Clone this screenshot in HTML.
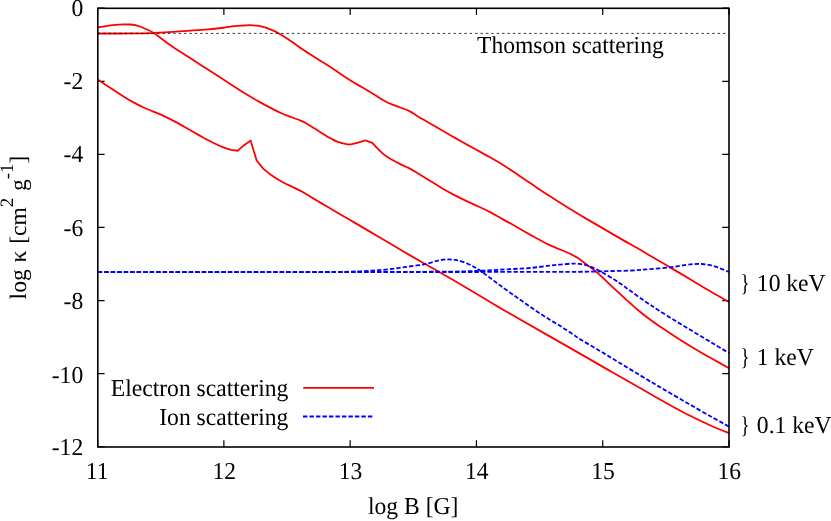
<!DOCTYPE html>
<html><head><meta charset="utf-8"><title>Opacity</title>
<style>html,body{margin:0;padding:0;background:#fff;overflow:hidden}svg{display:block;will-change:transform}text{text-rendering:geometricPrecision;font-family:"Liberation Serif",serif;fill:#000}</style>
</head><body>
<svg width="831" height="521" viewBox="0 0 831 521">
<rect x="0" y="0" width="831" height="521" fill="#ffffff"/>
<path d="M97.60,447.00 v-6.80 M97.60,8.30 v6.80 M223.88,447.00 v-6.80 M223.88,8.30 v6.80 M350.16,447.00 v-6.80 M350.16,8.30 v6.80 M476.44,447.00 v-6.80 M476.44,8.30 v6.80 M602.72,447.00 v-6.80 M602.72,8.30 v6.80 M729.00,447.00 v-6.80 M729.00,8.30 v6.80 M97.80,8.20 h6.80 M729.00,8.20 h-6.80 M97.80,81.29 h6.80 M729.00,81.29 h-6.80 M97.80,154.38 h6.80 M729.00,154.38 h-6.80 M97.80,227.47 h6.80 M729.00,227.47 h-6.80 M97.80,300.56 h6.80 M729.00,300.56 h-6.80 M97.80,373.65 h6.80 M729.00,373.65 h-6.80 M97.80,446.74 h6.80 M729.00,446.74 h-6.80" stroke="#000" stroke-width="1.2" fill="none"/>
<g fill="none" stroke-linejoin="miter" stroke-linecap="butt">
<g stroke="#ff0000" stroke-width="1.8">
<path d="M97.90,33.50 C104.62,33.48 128.82,33.50 138.20,33.40 C147.58,33.30 149.17,33.12 154.20,32.90 C159.23,32.68 163.67,32.38 168.40,32.10 C173.13,31.82 177.68,31.52 182.60,31.20 C187.52,30.88 192.50,30.61 197.90,30.20 C203.30,29.79 210.55,29.18 215.00,28.75 C219.45,28.32 221.40,28.03 224.60,27.60 C227.80,27.18 230.98,26.55 234.20,26.20 C237.42,25.85 241.25,25.67 243.90,25.50 C246.55,25.33 247.87,25.17 250.10,25.20 C252.33,25.23 254.82,25.33 257.30,25.70 C259.78,26.07 262.43,26.63 265.00,27.40 C267.57,28.17 270.45,29.33 272.70,30.30 C274.95,31.27 276.25,31.92 278.50,33.20 C280.75,34.48 283.45,36.20 286.20,38.00 C288.95,39.80 292.37,42.17 295.00,44.00 C297.63,45.83 298.82,46.87 302.00,49.00 C305.18,51.13 310.08,54.25 314.10,56.80 C318.12,59.35 322.10,61.73 326.10,64.30 C330.10,66.87 334.08,69.53 338.10,72.20 C342.12,74.87 346.18,77.78 350.20,80.30 C354.22,82.82 358.07,84.83 362.20,87.30 C366.33,89.77 371.27,92.82 375.00,95.10 C378.73,97.38 381.58,99.37 384.60,101.00 C387.62,102.63 390.08,103.68 393.10,104.90 C396.12,106.12 399.90,107.22 402.70,108.30 C405.50,109.38 407.50,110.13 409.90,111.40 C412.30,112.67 414.30,114.22 417.10,115.90 C419.90,117.58 423.08,119.40 426.70,121.50 C430.32,123.60 434.78,126.17 438.80,128.50 C442.82,130.83 446.80,133.20 450.80,135.50 C454.80,137.80 458.77,140.05 462.80,142.30 C466.83,144.55 470.62,146.58 475.00,149.00 C479.38,151.42 484.75,154.33 489.10,156.80 C493.45,159.27 497.10,161.35 501.10,163.80 C505.10,166.25 509.08,168.85 513.10,171.50 C517.12,174.15 521.18,176.97 525.20,179.70 C529.22,182.43 533.13,185.17 537.20,187.90 C541.27,190.63 544.45,192.78 549.60,196.10 C554.75,199.42 562.02,204.05 568.10,207.80 C574.18,211.55 580.08,215.05 586.10,218.60 C592.12,222.15 598.18,225.60 604.20,229.10 C610.22,232.60 616.18,236.15 622.20,239.60 C628.22,243.05 635.65,247.10 640.30,249.80 C644.95,252.50 645.07,252.83 650.10,255.80 C655.13,258.77 663.48,263.48 670.50,267.60 C677.52,271.72 685.58,276.55 692.20,280.50 C698.82,284.45 704.05,287.70 710.20,291.30 C716.35,294.90 725.95,300.30 729.10,302.10"/>
<path d="M97.90,27.50 C99.22,27.27 102.92,26.53 105.80,26.10 C108.68,25.67 112.30,25.20 115.20,24.90 C118.10,24.60 120.78,24.37 123.20,24.30 C125.62,24.23 127.67,24.35 129.70,24.50 C131.73,24.65 133.48,24.78 135.40,25.20 C137.32,25.62 139.25,26.28 141.20,27.00 C143.15,27.72 144.93,28.47 147.10,29.50 C149.27,30.53 151.83,31.70 154.20,33.20 C156.57,34.70 158.93,36.73 161.30,38.50 C163.67,40.27 166.03,42.08 168.40,43.80 C170.77,45.52 173.13,47.23 175.50,48.80 C177.87,50.37 180.47,51.87 182.60,53.20 C184.73,54.53 185.40,54.93 188.30,56.80 C191.20,58.67 194.72,60.98 200.00,64.40 C205.28,67.82 213.55,73.12 220.00,77.30 C226.45,81.48 232.22,85.45 238.70,89.50 C245.18,93.55 251.68,97.60 258.90,101.60 C266.12,105.60 274.93,110.30 282.00,113.50 C289.07,116.70 296.80,118.87 301.30,120.80 C305.80,122.73 304.83,122.58 309.00,125.10 C313.17,127.62 322.80,133.75 326.30,135.90 C329.80,138.05 328.10,137.00 330.00,138.00 C331.90,139.00 334.97,140.88 337.70,141.90 C340.43,142.92 344.00,143.73 346.40,144.10 C348.80,144.47 350.02,144.40 352.10,144.10 C354.18,143.80 356.68,142.90 358.90,142.30 C361.12,141.70 364.32,140.80 365.40,140.50 L372.30,142.90 C373.20,143.87 375.68,146.70 377.70,148.70 C379.72,150.70 382.15,153.15 384.40,154.90 C386.65,156.65 388.78,157.78 391.20,159.20 C393.62,160.62 396.02,161.95 398.90,163.40 C401.78,164.85 405.62,166.43 408.50,167.90 C411.38,169.37 413.63,170.67 416.20,172.20 C418.77,173.73 421.33,175.50 423.90,177.10 C426.47,178.70 428.58,179.95 431.60,181.80 C434.62,183.65 438.25,186.02 442.00,188.20 C445.75,190.38 450.08,192.78 454.10,194.90 C458.12,197.02 462.10,199.00 466.10,200.90 C470.10,202.80 474.08,204.43 478.10,206.30 C482.12,208.17 486.18,210.00 490.20,212.10 C494.22,214.20 498.20,216.67 502.20,218.90 C506.20,221.13 509.57,222.88 514.20,225.50 C518.83,228.12 524.15,231.37 530.00,234.60 C535.85,237.83 542.88,241.83 549.30,244.90 C555.72,247.97 563.68,250.77 568.50,253.00 C573.32,255.23 574.98,256.23 578.20,258.30 C581.42,260.37 584.62,263.02 587.80,265.40 C590.98,267.78 593.78,269.57 597.30,272.60 C600.82,275.63 604.40,279.40 608.90,283.60 C613.40,287.80 619.12,293.10 624.30,297.80 C629.48,302.50 635.38,307.93 640.00,311.80 C644.62,315.67 647.98,318.08 652.00,321.00 C656.02,323.92 660.08,326.60 664.10,329.30 C668.12,332.00 672.10,334.62 676.10,337.20 C680.10,339.78 684.08,342.33 688.10,344.80 C692.12,347.27 696.18,349.68 700.20,352.00 C704.22,354.32 707.38,356.00 712.20,358.70 C717.02,361.40 726.28,366.62 729.10,368.20"/>
<path d="M97.90,79.60 C99.82,80.88 105.07,84.45 109.40,87.30 C113.73,90.15 119.88,94.18 123.90,96.70 C127.92,99.22 130.30,100.65 133.50,102.40 C136.70,104.15 139.90,105.72 143.10,107.20 C146.30,108.68 149.48,109.93 152.70,111.30 C155.92,112.67 158.75,113.72 162.40,115.40 C166.05,117.08 170.97,119.50 174.60,121.40 C178.23,123.30 180.98,124.98 184.20,126.80 C187.42,128.62 190.68,130.48 193.90,132.30 C197.12,134.12 200.30,135.97 203.50,137.70 C206.70,139.43 209.90,141.13 213.10,142.70 C216.30,144.27 219.73,145.90 222.70,147.10 C225.67,148.30 229.53,149.43 230.90,149.90 L237.70,150.70 L243.70,145.40 L250.60,140.60 L256.70,160.50 L263.10,168.60 C264.32,169.57 267.27,172.22 270.40,174.40 C273.53,176.58 278.05,179.53 281.90,181.70 C285.75,183.87 289.97,185.65 293.50,187.40 C297.03,189.15 300.53,190.80 303.10,192.20 C305.67,193.60 306.48,194.33 308.90,195.80 C311.32,197.27 314.72,199.28 317.60,201.00 C320.48,202.72 322.47,203.88 326.20,206.10 C329.93,208.32 335.35,211.58 340.00,214.30 C344.65,217.02 347.75,218.70 354.10,222.40 C360.45,226.10 370.08,231.78 378.10,236.50 C386.12,241.22 394.37,246.12 402.20,250.70 C410.03,255.28 418.93,260.45 425.10,264.00 C431.27,267.55 434.52,269.33 439.20,272.00 C443.88,274.67 445.25,275.33 453.20,280.00 C461.15,284.67 477.92,294.67 486.90,300.00 C495.88,305.33 491.58,303.07 507.10,312.00 C522.62,320.93 562.67,343.67 580.00,353.60 C597.33,363.53 601.10,365.87 611.10,371.60 C621.10,377.33 631.17,382.97 640.00,388.00 C648.83,393.03 656.08,397.33 664.10,401.80 C672.12,406.27 680.08,410.72 688.10,414.80 C696.12,418.88 705.37,423.27 712.20,426.30 C719.03,429.33 726.28,431.88 729.10,433.00"/>
<path d="M303.2,387.9 H373.9"/>
</g>
<g stroke="#0000ff" stroke-width="1.8" stroke-dasharray="4.4 2.09">
<path d="M97.90,272.20 C131.58,272.18 241.32,272.13 300.00,272.10 C358.68,272.07 410.00,272.03 450.00,272.00 C490.00,271.97 517.03,271.95 540.00,271.90 C562.97,271.85 576.62,271.82 587.80,271.70 C598.98,271.58 599.73,271.40 607.10,271.20 C614.47,271.00 624.83,270.85 632.00,270.50 C639.17,270.15 643.68,269.63 650.10,269.10 C656.52,268.57 664.48,268.00 670.50,267.30 C676.52,266.60 681.98,265.45 686.20,264.90 C690.42,264.35 693.20,264.15 695.80,264.00 C698.40,263.85 699.60,263.85 701.80,264.00 C704.00,264.15 706.60,264.42 709.00,264.90 C711.40,265.38 713.78,266.10 716.20,266.90 C718.62,267.70 721.35,268.85 723.50,269.70 C725.65,270.55 728.17,271.62 729.10,272.00"/>
<path d="M97.90,272.20 C131.58,272.18 242.98,272.18 300.00,272.10 C357.02,272.02 409.67,271.93 440.00,271.70 C470.33,271.47 470.82,271.10 482.00,270.70 C493.18,270.30 499.10,269.75 507.10,269.30 C515.10,268.85 522.97,268.60 530.00,268.00 C537.03,267.40 544.30,266.27 549.30,265.70 C554.30,265.13 556.22,264.95 560.00,264.60 C563.78,264.25 569.00,263.73 572.00,263.60 C575.00,263.47 575.38,263.47 578.00,263.80 C580.62,264.13 584.08,264.38 587.70,265.60 C591.32,266.82 595.28,268.78 599.70,271.10 C604.12,273.42 610.38,277.15 614.20,279.50 C618.02,281.85 619.97,283.35 622.60,285.20 C625.23,287.05 626.22,287.88 630.00,290.60 C633.78,293.32 640.62,298.27 645.30,301.50 C649.98,304.73 652.97,306.70 658.10,310.00 C663.23,313.30 670.08,317.60 676.10,321.30 C682.12,325.00 688.18,328.58 694.20,332.20 C700.22,335.82 706.38,339.52 712.20,343.00 C718.02,346.48 726.28,351.42 729.10,353.10"/>
<path d="M97.90,272.20 C123.25,272.18 211.32,272.13 250.00,272.10 C288.68,272.07 313.67,272.07 330.00,272.00 C346.33,271.93 343.00,271.82 348.00,271.70 C353.00,271.58 356.00,271.48 360.00,271.30 C364.00,271.12 368.33,270.83 372.00,270.60 C375.67,270.37 378.67,270.18 382.00,269.90 C385.33,269.62 388.72,269.30 392.00,268.90 C395.28,268.50 398.37,267.97 401.70,267.50 C405.03,267.03 408.40,266.60 412.00,266.10 C415.60,265.60 420.12,265.08 423.30,264.50 C426.48,263.92 428.80,263.22 431.10,262.60 C433.40,261.98 435.12,261.28 437.10,260.80 C439.08,260.32 441.10,259.93 443.00,259.70 C444.90,259.47 446.67,259.38 448.50,259.40 C450.33,259.42 452.28,259.60 454.00,259.80 C455.72,260.00 456.60,259.98 458.80,260.60 C461.00,261.22 464.60,262.42 467.20,263.50 C469.80,264.58 472.40,266.03 474.40,267.10 C476.40,268.17 477.10,268.48 479.20,269.90 C481.30,271.32 484.37,273.65 487.00,275.60 C489.63,277.55 492.50,279.73 495.00,281.60 C497.50,283.47 498.82,284.48 502.00,286.80 C505.18,289.12 510.08,292.65 514.10,295.50 C518.12,298.35 522.10,301.12 526.10,303.90 C530.10,306.68 534.08,309.53 538.10,312.20 C542.12,314.87 546.18,317.40 550.20,319.90 C554.22,322.40 558.40,324.78 562.20,327.20 C566.00,329.62 570.03,332.40 573.00,334.40 C575.97,336.40 575.65,336.53 580.00,339.20 C584.35,341.87 592.68,346.57 599.10,350.40 C605.52,354.23 610.48,357.33 618.50,362.20 C626.52,367.07 639.60,375.03 647.20,379.60 C654.80,384.17 657.28,385.62 664.10,389.60 C670.92,393.58 680.08,398.88 688.10,403.50 C696.12,408.12 705.37,413.45 712.20,417.30 C719.03,421.15 726.28,425.05 729.10,426.60"/>
<path d="M303.0,416.5 H372.6"/>
</g>
</g>
<path d="M97.80,33.4 H729.00" stroke="#000" stroke-width="0.8" stroke-dasharray="2.4 2.99" fill="none"/>
<rect x="97.80" y="8.30" width="631.20" height="438.70" fill="none" stroke="#000" stroke-width="1.6"/>
<g font-size="23.6">
<text transform="translate(83.20,16.40) scale(1,1.030)" text-anchor="end">0</text>
<text transform="translate(83.20,88.70) scale(1,1.030)" text-anchor="end">-2</text>
<text transform="translate(83.20,162.30) scale(1,1.030)" text-anchor="end">-4</text>
<text transform="translate(83.20,235.80) scale(1,1.030)" text-anchor="end">-6</text>
<text transform="translate(83.20,308.80) scale(1,1.030)" text-anchor="end">-8</text>
<text transform="translate(83.20,382.60) scale(1,1.030)" text-anchor="end">-10</text>
<text transform="translate(83.20,454.80) scale(1,1.030)" text-anchor="end">-12</text>
<text transform="translate(97.10,478.80) scale(1,1.030)" text-anchor="middle">11</text>
<text transform="translate(224.24,478.80) scale(1,1.030)" text-anchor="middle">12</text>
<text transform="translate(350.48,478.80) scale(1,1.030)" text-anchor="middle">13</text>
<text transform="translate(476.72,478.80) scale(1,1.030)" text-anchor="middle">14</text>
<text transform="translate(602.96,478.80) scale(1,1.030)" text-anchor="middle">15</text>
<text transform="translate(729.20,478.80) scale(1,1.030)" text-anchor="middle">16</text>
<text transform="translate(413.20,513.90) scale(1,1.030)" text-anchor="middle">log B [G]</text>
<text transform="translate(477.00,52.70) scale(1,1.030)">Thomson scattering</text>
<text transform="translate(288.30,396.20) scale(1,1.030)" text-anchor="end">Electron scattering</text>
<text transform="translate(288.30,424.80) scale(1,1.030)" text-anchor="end">Ion scattering</text>
<text transform="translate(744.9,291.00) scale(0.8,1.030)" text-anchor="middle">}</text>
<text transform="translate(756.83,291.00) scale(1,1.030)">10 keV</text>
<text transform="translate(744.9,364.70) scale(0.8,1.030)" text-anchor="middle">}</text>
<text transform="translate(756.83,364.70) scale(1,1.030)">1 keV</text>
<text transform="translate(744.9,433.30) scale(0.8,1.030)" text-anchor="middle">}</text>
<text transform="translate(756.83,433.30) scale(1,1.030)">0.1 keV</text>
<text transform="translate(25.6,299.4) rotate(-90)" word-spacing="0.85">log κ [cm<tspan font-size="18.88" dy="-12.6">2</tspan><tspan dy="12.6"> g</tspan><tspan font-size="18.88" dy="-12.6">-1</tspan><tspan dy="12.6">]</tspan></text>
</g>
</svg>
</body></html>
